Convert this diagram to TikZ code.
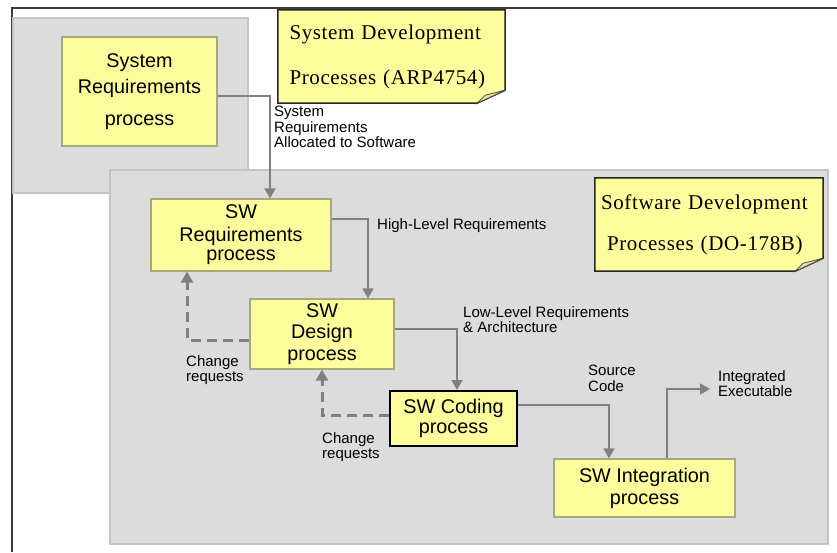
\documentclass[tikz,border=0pt]{standalone}
\usepackage{fontspec}
\setmainfont{Liberation Serif}
\newfontfamily\arialf{Liberation Sans}
\newfontfamily\notefont[LetterSpace=3]{Liberation Serif}
\usetikzlibrary{arrows.meta}
\pgfdeclarelayer{back}
\pgfdeclarelayer{bgl}
\pgfsetlayers{back,bgl,main}
\definecolor{paleyellow}{HTML}{FCFC9C}
\definecolor{boxedge}{HTML}{A8A878}
\definecolor{grayfill}{HTML}{DCDCDC}
\definecolor{grayedge}{HTML}{C4C4C4}
\definecolor{arrowgray}{HTML}{808080}
\definecolor{framegray}{HTML}{3C3C3C}
\definecolor{foldyellow}{HTML}{E4E49A}
\tikzset{
  procbox/.style={draw=boxedge, line width=1.2pt, fill=paleyellow, inner sep=0pt,
    align=center, font=\arialf\fontsize{19.8}{22}\selectfont},
  notebox/.style={inner sep=0pt, align=left, font=\notefont\fontsize{21}{45}\selectfont},
  lbl/.style={inner sep=0pt, align=left, font=\arialf\fontsize{15}{15.5}\selectfont},
  flow/.style={draw=arrowgray, line width=1.8pt, -{Triangle[width=11pt,length=10pt]}},
  chg/.style={draw=arrowgray, line width=3pt, dash pattern=on 10pt off 6pt,
    -{Triangle[width=12pt,length=11pt]}},
  groupbox/.style={draw=grayedge, line width=1.5pt, fill=grayfill},
  notepoly/.style={draw=black!85, line width=1.5pt, fill=paleyellow},
  foldpoly/.style={draw=black!70, line width=0.8pt, fill=foldyellow}
}
\begin{document}
\begin{tikzpicture}[x=1pt,y=-1pt]
\useasboundingbox (0,0) rectangle (837,552);
% containers
\begin{pgfonlayer}{back}
\fill[white] (0,0) rectangle (837,552);
\draw[framegray, line width=2pt] (12,552) -- (12,8) -- (837,8);
\draw[groupbox] (13,18) rectangle (248,193);
\draw[groupbox] (110,170) rectangle (828,544);
\end{pgfonlayer}

% process boxes
\node[procbox, minimum width=155pt, minimum height=109pt] (sysreq) at (139.5,91.5)
  {System\\[4pt]Requirements\\[10pt]process};
\node[procbox, minimum width=180pt, minimum height=72pt] (swreq) at (241,235)
  {SW\\[1pt]Requirements\\[-3pt]process};
\node[procbox, minimum width=144pt, minimum height=70pt] (swdes) at (322,334)
  {SW\\[-1pt]Design\\process};
\node[procbox, draw=black, line width=2pt, minimum width=127pt, minimum height=55pt] (swcod) at (453.5,418.5)
  {SW Coding\\[-2pt]process};
\node[procbox, minimum width=181pt, minimum height=58pt] (swint) at (644.5,488)
  {SW Integration\\process};

% notes
\node[notebox, minimum width=227pt, minimum height=93pt, text width=204pt] (sysnote) at (391.5,56.5)
  {System Development\\Processes (ARP4754)};
\node[notebox, minimum width=228pt, minimum height=93pt, text width=216pt] (swnote) at (709,224.5)
  {Software Development\\[-4pt]\hspace*{6pt}Processes (DO-178B)};
\begin{pgfonlayer}{bgl}
\foreach \n in {sysnote,swnote}{
  \draw[notepoly] (\n.north west) -- (\n.north east) -- ([yshift=13pt]\n.south east)
    -- ([xshift=-28pt]\n.south east) -- (\n.south west) -- cycle;
  \draw[foldpoly] ([yshift=13pt]\n.south east) -- ([xshift=-28pt]\n.south east)
    -- ([xshift=-20pt,yshift=8pt]\n.south east) -- cycle;
}
\end{pgfonlayer}

% flows
\coordinate (ie) at (710,389);
\draw[flow] ([yshift=-4.5pt]sysreq.east) -| ([xshift=29pt]swreq.north);
\draw[flow] ([yshift=16pt]swreq.east) -| ([xshift=46pt]swdes.north);
\draw[flow] ([yshift=5pt]swdes.east) -| ([xshift=3.5pt]swcod.north);
\draw[flow] ([yshift=13.5pt]swcod.east) -| ([xshift=-35.5pt]swint.north);
\draw[flow] ([xshift=22.5pt]swint.north) |- (ie);
\draw[chg] ([yshift=-6pt]swdes.west) -| ([xshift=-54pt]swreq.south);
\draw[chg] ([yshift=3.5pt]swcod.west) -| (swdes.south);

% labels
\node[lbl, anchor=north west] (lsys) at (274,106) {System\\Requirements\\Allocated to Software};
\node[lbl, anchor=west] (lhl) at (377,226) {High-Level Requirements};
\node[lbl, anchor=north west] (lll) at (463,306) {Low-Level Requirements\\\& Architecture};
\node[lbl, anchor=north west] (lcr1) at (186,355) {Change\\requests};
\node[lbl, anchor=north west] (lcr2) at (322,432) {Change\\requests};
\node[lbl, anchor=north west] (lsc) at (588,365) {Source\\Code};
\node[lbl, anchor=north west] (lie) at (718,370) {Integrated\\Executable};
\end{tikzpicture}
\end{document}
